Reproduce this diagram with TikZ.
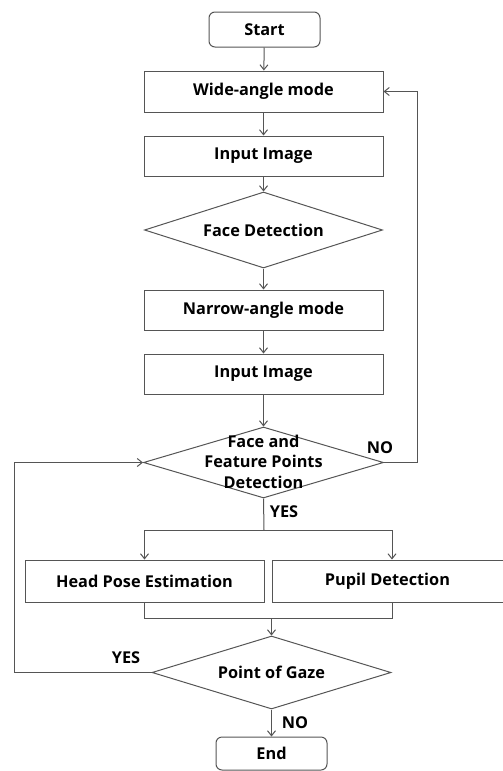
\documentclass[tikz,border=0pt]{standalone}
\usepackage{fontspec}
\setmainfont{Open Sans}
\usetikzlibrary{shapes.geometric,arrows.meta}
\definecolor{ln}{HTML}{555555}
\tikzset{
  box/.style={draw=ln,line width=1pt,rectangle,minimum width=239pt,minimum height=40pt,inner sep=0pt,font=\bfseries\fontsize{16.3}{18}\selectfont},
  term/.style={box,rounded corners=6pt,minimum width=111pt,minimum height=35pt},
  dia/.style={draw=ln,line width=1pt,diamond,inner sep=0pt,aspect=3.2},
  txt/.style={align=center,inner sep=0pt,font=\bfseries\fontsize{16.3}{20.5}\selectfont},
  conn/.style={draw=ln,line width=1pt,-{Straight Barb[length=5pt,width=8pt]}},
  plain/.style={draw=ln,line width=1pt}
}
\begin{document}
\begin{tikzpicture}[x=1pt,y=-1pt]
\useasboundingbox (0,0) rectangle (503,771);
\node[term] (start) at (264.5,29.5) {Start};
\node[box,minimum height=41pt] (wide) at (263.5,91.5) {Wide-angle mode};
\node[box] (in1) at (263.5,156) {Input Image};
\node[dia,minimum width=238pt,minimum height=76pt] (face) at (263.5,230) {};
\node[txt] at (face) {Face Detection};
\node[box] (narrow) at (263.5,310) {Narrow-angle mode};
\node[box] (in2) at (263.5,374) {Input Image};
\node[dia,minimum width=240pt,minimum height=71pt] (ffp) at (263.5,462.5) {};
\node[txt] at ([yshift=1pt]ffp.center) {Face and\\Feature Points\\Detection};
\node[box,minimum height=42pt] (head) at (144.5,581) {Head Pose Estimation};
\node[box,minimum height=42pt,minimum width=240pt] (pupil) at (392,581) {};
\node[txt] at (387.5,581) {Pupil Detection};
\node[dia,minimum width=239pt,minimum height=73pt] (pog) at (271.5,672.5) {};
\node[txt] at (pog) {Point of Gaze};
\node[term,minimum height=33pt] (end) at (271.5,753.5) {End};

\coordinate (r1) at (417,462.5);
\coordinate (l1) at (14,672.5);
\coordinate (br) at (264,530);
\coordinate (mg) at (271.5,618);

\draw[conn] (start) -- (wide);
\draw[conn] (wide) -- (in1);
\draw[conn] (in1) -- (face);
\draw[conn] (face) -- (narrow);
\draw[conn] (narrow) -- (in2);
\draw[conn] (in2) -- (ffp);
\draw[conn] (ffp.east) -- (r1) |- (wide.east);
\draw[conn] (pog.west) -- (l1) |- (ffp.west);
\draw[plain] (ffp.south) -- (br);
\draw[conn] (br) -| (head.north);
\draw[conn] (br) -| (pupil.north);
\draw[plain] (head.south) |- (mg);
\draw[plain] (pupil.south) |- (mg);
\draw[conn] (mg) -- (pog.north);
\draw[conn] (pog.south) -- (end);

\node[txt] at (380,448) {NO};
\node[txt] at (284,512) {YES};
\node[txt] at (126,658) {YES};
\node[txt] at (295,723) {NO};
\end{tikzpicture}
\end{document}
